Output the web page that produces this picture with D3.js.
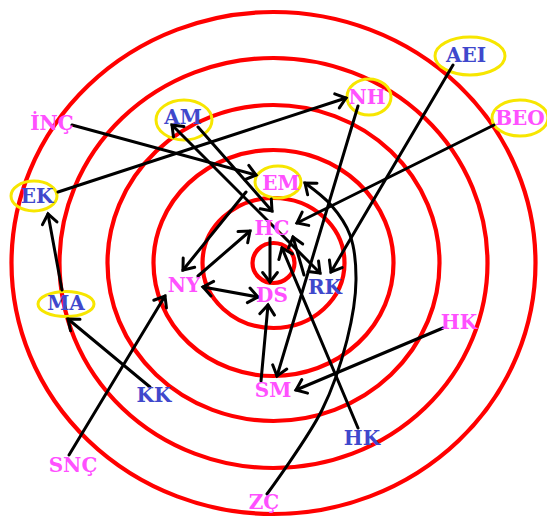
<!DOCTYPE html>
<html>
<head>
<meta charset="utf-8">
<script src="https://cdn.jsdelivr.net/npm/d3@7"></script>
<style>
  html, body { margin: 0; padding: 0; background: #fff; }
  svg { display: block; }
</style>
</head>
<body>
<svg id="chart" width="547" height="520"></svg>
<script>
// ---------- DATA ----------
// concentric rings (horizontal / vertical radius, in picture units)
const ringRadiusX = [21, 71, 120, 166, 214, 262];
const ringRadiusY = [20, 65, 113, 158, 205, 251];
const ringCenter = [273.5, 263];

// nodes: label, colour group, position
const nodeIds    = ["AEI","NH","BEO","AM","INC","EM","EK","HC","NY","DS","RK","MA","HKp","KK","SM","HKb","SNC","ZC"];
const nodeLabels = ["AEI","NH","BEO","AM","İNÇ","EM","EK","HC","NY","DS","RK","MA","HK","KK","SM","HK","SNÇ","ZÇ"];
const nodeGroup  = ["b","p","p","b","p","p","b","p","p","p","b","b","p","b","p","b","p","p"];
const nodeX      = [466, 367, 520, 183, 52, 281, 37, 272, 184, 272, 325, 66, 459, 154, 273, 362, 73, 264];
const nodeY      = [ 55,  97, 118, 117, 123, 183, 196, 228, 285, 295, 287, 303, 322, 395, 390, 438, 465, 502];

// yellow circled nodes: ellipse centre, radii
const circledIds = ["AEI","NH","BEO","AM","EM","EK","MA"];
const circleX    = [470, 369, 520, 184, 278, 34, 66];
const circleY    = [ 56,  97, 118, 120, 182, 196, 304];
const circleRX   = [ 35,  22,  28,  28,  23, 23, 28];
const circleRY   = [ 19,  18,  18,  20,  16, 15, 12.5];

// choices (arrows): from, to, start point, end point, both-way?
const arrowFrom = ["INC","EK","AM","AM","EM","NY","NY","HC","BEO","AEI","NH","SM","HKp","KK","MA","SNC","HKb","RK"];
const arrowTo   = ["EM","NH","RK","HC","NY","HC","DS","DS","HC","RK","SM","DS","SM","MA","EK","NY","HC","HC"];
const arrowX1   = [ 72,  58, 172, 198, 246, 198, 203, 270, 494, 453, 358, 261, 443, 150,  62,  69, 358, 304];
const arrowY1   = [125, 192, 125, 127, 192, 276, 287, 238, 125, 65, 106, 381, 328, 387, 290, 455, 428, 275];
const arrowX2   = [256, 346, 320, 272, 183, 250, 258, 270, 297, 331, 277, 268, 296, 68,  48, 165, 282, 293];
const arrowY2   = [175,  98, 273, 211, 270, 231, 297, 282, 223, 272, 376, 305, 390, 319, 214, 296, 248, 237];
const arrowBoth = [false,false,true,false,false,false,true,false,false,false,false,false,false,false,false,false,false,false];

// curved choice ZÇ -> EM (path through these points)
const curveX = [267, 322, 347, 356, 350, 331, 305];
const curveY = [494, 410, 340, 280, 235, 205, 183];

// ---------- DRAW ----------
const W = 547, H = 520;
const svg = d3.select("#chart");
const x = d3.scaleLinear().domain([0, 547]).range([0, W]);
const y = d3.scaleLinear().domain([0, 520]).range([0, H]);
const rx = d3.scaleLinear().domain([0, 547]).range([0, W]);
const ry = d3.scaleLinear().domain([0, 520]).range([0, H]);

const colors = { p: "#ff50ff", b: "#3f48cc" };

// rings
svg.append("g").selectAll("ellipse")
  .data(d3.range(ringRadiusX.length))
  .join("ellipse")
  .attr("cx", x(ringCenter[0])).attr("cy", y(ringCenter[1]))
  .attr("rx", i => rx(ringRadiusX[i])).attr("ry", i => ry(ringRadiusY[i]))
  .attr("fill", "none").attr("stroke", "#ff0000").attr("stroke-width", 4.2);

// yellow ellipses
svg.append("g").selectAll("ellipse")
  .data(d3.range(circledIds.length))
  .join("ellipse")
  .attr("cx", i => x(circleX[i])).attr("cy", i => y(circleY[i]))
  .attr("rx", i => rx(circleRX[i])).attr("ry", i => ry(circleRY[i]))
  .attr("fill", "none").attr("stroke", "#f7e600").attr("stroke-width", 3);

// arrowhead helper
const headLen = 12, headAng = 38 * Math.PI / 180;
function headPath(tx, ty, fx, fy) {
  const a = Math.atan2(ty - fy, tx - fx);
  const p1 = [tx - headLen * Math.cos(a - headAng), ty - headLen * Math.sin(a - headAng)];
  const p2 = [tx - headLen * Math.cos(a + headAng), ty - headLen * Math.sin(a + headAng)];
  return `M${p1[0]},${p1[1]}L${tx},${ty}L${p2[0]},${p2[1]}`;
}

const gA = svg.append("g").attr("stroke", "#000").attr("stroke-width", 3)
  .attr("fill", "none").attr("stroke-linecap", "round").attr("stroke-linejoin", "miter");

gA.selectAll("line.l").data(d3.range(arrowFrom.length)).join("line")
  .attr("class", "l")
  .attr("x1", i => x(arrowX1[i])).attr("y1", i => y(arrowY1[i]))
  .attr("x2", i => x(arrowX2[i])).attr("y2", i => y(arrowY2[i]));

gA.selectAll("path.h").data(d3.range(arrowFrom.length)).join("path")
  .attr("class", "h")
  .attr("d", i => {
    let d = headPath(x(arrowX2[i]), y(arrowY2[i]), x(arrowX1[i]), y(arrowY1[i]));
    if (arrowBoth[i]) d += headPath(x(arrowX1[i]), y(arrowY1[i]), x(arrowX2[i]), y(arrowY2[i]));
    return d;
  });

// curved arrow
const curvePts = curveX.map((v, i) => [x(v), y(curveY[i])]);
gA.append("path")
  .attr("d", d3.line().curve(d3.curveCatmullRom.alpha(0.5))(curvePts));
const n = curvePts.length;
gA.append("path")
  .attr("d", headPath(curvePts[n-1][0], curvePts[n-1][1], x(316), y(192)));

// labels
svg.append("g").selectAll("text")
  .data(d3.range(nodeIds.length))
  .join("text")
  .attr("x", i => x(nodeX[i])).attr("y", i => y(nodeY[i]))
  .attr("dy", "0.36em")
  .attr("text-anchor", "middle")
  .attr("font-family", "'DejaVu Serif', serif")
  .attr("font-weight", "bold")
  .attr("font-size", 20)
  .attr("fill", i => colors[nodeGroup[i]])
  .text(i => nodeLabels[i]);
</script>
</body>
</html>
